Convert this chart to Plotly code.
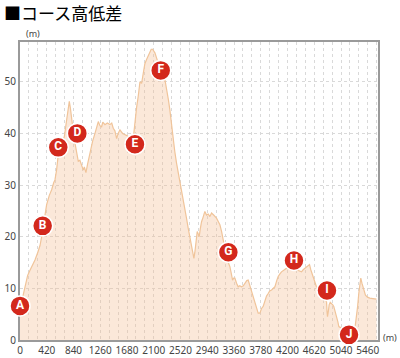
import plotly.graph_objects as go

dist = [0, 40, 80, 120, 157, 200, 235, 280, 314, 340, 366, 390, 418, 460, 497, 530, 549, 575, 601, 640,
        696, 732, 755, 774, 790, 811, 840, 863, 890, 915, 940, 968, 994, 1010, 1035, 1060, 1098, 1140, 1177, 1200,
        1229, 1255, 1281, 1300, 1334, 1370, 1412, 1440, 1464, 1490, 1517, 1540, 1569, 1610, 1647, 1690, 1726, 1760, 1778, 1804,
        1830, 1856, 1883, 1909, 1934, 1960, 1987, 2010, 2039, 2060, 2082, 2100, 2118, 2160, 2196, 2240, 2275, 2301, 2330, 2353,
        2380, 2405, 2430, 2458, 2500, 2536, 2560, 2589, 2615, 2641, 2665, 2693, 2715, 2730, 2745, 2761, 2782, 2800, 2813, 2830,
        2850, 2875, 2902, 2928, 2955, 2981, 3007, 3040, 3085, 3110, 3138, 3165, 3190, 3215, 3242, 3270, 3295, 3315, 3337, 3355,
        3373, 3400, 3425, 3450, 3477, 3505, 3530, 3560, 3582, 3610, 3635, 3670, 3700, 3739, 3765, 3792, 3817, 3844, 3870, 3896,
        3920, 3949, 3975, 4001, 4030, 4053, 4080, 4105, 4140, 4184, 4220, 4262, 4300, 4341, 4380, 4419, 4445, 4471, 4500, 4523,
        4545, 4565, 4585, 4602, 4630, 4654, 4680, 4706, 4735, 4759, 4790, 4812, 4820, 4827, 4840, 4853, 4870, 4890, 4910, 4926,
        4950, 4968, 4990, 5005, 5025, 5047, 5075, 5099, 5140, 5178, 5215, 5245, 5265, 5282, 5300, 5318, 5335, 5350, 5368, 5386,
        5405, 5423, 5455, 5491, 5540, 5596]
elev = [6, 8, 10.5, 12.5, 13.5, 14.5, 15.5, 17, 18.3, 20, 22, 24, 26.2, 28, 29.1, 30.5, 31, 33, 35.9, 37.5,
        39.4, 42.6, 45, 46.2, 45, 43.3, 40, 38.1, 36, 34.6, 34.8, 33.9, 32.9, 33.5, 32.4, 34, 36.2, 38.5, 40, 41,
        42.3, 41.5, 41.3, 42.2, 41.7, 42, 41.7, 42, 41, 40.5, 39, 40, 40.7, 40, 39.7, 39.5, 38.8, 38.5, 39, 42.6,
        45, 47.2, 50, 49.7, 52, 53.5, 54.3, 55, 55.9, 56.3, 56.3, 56, 55.6, 54, 53, 51.5, 50.4, 48.8, 46.5, 44.5,
        41.5, 39, 36.5, 34.2, 31.5, 29, 27.5, 25.2, 23.5, 21.6, 20, 18.1, 16.5, 15.8, 17, 19.4, 21, 20.5, 20, 21.5,
        22.9, 23.8, 24.9, 24.2, 24.4, 23.9, 24.6, 24.2, 23.6, 23, 22.3, 21, 19.4, 17.5, 16.1, 15, 14.2, 13, 11.6, 12,
        12, 11, 10.3, 10.5, 10.3, 10.5, 11, 11.5, 11.6, 10.5, 9.7, 8, 6.8, 5.2, 5.2, 6.1, 6.5, 7.8, 8.5, 9,
        9.5, 9.7, 10, 10.3, 11.5, 12.3, 12.8, 13.2, 13.5, 13.9, 13.7, 13.6, 13.8, 13.6, 13.3, 13.2, 13.6, 13.9, 14.2, 14.5,
        14.6, 13.6, 12.8, 12, 11, 10.3, 9.6, 9, 8.7, 8.4, 7.8, 7.4, 5.5, 4.5, 5.5, 6.8, 7.3, 7.1, 6.8, 6.5,
        5.5, 4.8, 3.5, 2.6, 2.4, 2.3, 2.1, 1.9, 1.7, 1.6, 1.7, 1.9, 3, 4.5, 6.5, 9, 11, 12, 11, 10.3,
        9.5, 8.7, 8.3, 8.1, 8, 7.9]

point_labels = ["A", "B", "C", "D", "E", "F", "G", "H", "I", "J"]
point_dist = [0, 356, 601, 900, 1805, 2209, 3271, 4301, 4819, 5165]
point_elev = [6.6, 22.1, 37.3, 40.0, 37.9, 52.2, 17.0, 15.4, 9.6, 1.0]

x_ticks = [0, 420, 840, 1260, 1680, 2100, 2520, 2940, 3360, 3780, 4200, 4620, 5040, 5460]
y_ticks = [0, 10, 20, 30, 40, 50]

fig = go.Figure()
fig.add_trace(go.Scatter(
    x=dist, y=elev, mode="lines", fill="tozeroy",
    line=dict(color="#f0c49a", width=1.2),
    fillcolor="rgba(243,190,145,0.35)",
    hoverinfo="skip", showlegend=False,
))
fig.add_trace(go.Scatter(
    x=point_dist, y=point_elev, mode="markers+text",
    text=point_labels, textposition="middle center",
    textfont=dict(color="white", size=12, family="Roboto, Arial, sans-serif", weight="bold"),
    marker=dict(size=20, color="#d3281c", line=dict(color="white", width=1.5)),
    cliponaxis=False, showlegend=False,
))

grid_col = "#d9d9d9"
fig.update_xaxes(
    range=[0, 5620], tickmode="array", tickvals=x_ticks,
    ticktext=[str(v) for v in x_ticks],
    showgrid=True, gridcolor=grid_col, griddash="dot", gridwidth=1,
    minor=dict(dtick=140, tick0=0, showgrid=True, gridcolor=grid_col, griddash="dot", gridwidth=1),
    showline=True, linecolor="#9a9a9a", linewidth=2, mirror=True,
    ticks="", zeroline=False, layer="below traces", automargin=False,
    tickfont=dict(size=10, color="#444", family="Noto Sans, sans-serif"),
)
fig.update_yaxes(
    range=[0, 57.7], tickmode="array", tickvals=y_ticks,
    showgrid=True, gridcolor=grid_col, griddash="dot", gridwidth=1,
    showline=True, linecolor="#9a9a9a", linewidth=2, mirror=True,
    ticks="", zeroline=False, layer="below traces", automargin=False,
    tickfont=dict(size=10, color="#444", family="Noto Sans, sans-serif"),
)

fig.update_layout(
    width=400, height=358,
    margin=dict(l=20, r=22, t=42, b=18, autoexpand=False),
    paper_bgcolor="white", plot_bgcolor="white",
    annotations=[
        dict(text="■コース高低差", xref="paper", yref="paper", x=-0.05, y=1.10,
             xanchor="left", yanchor="middle", showarrow=False,
             font=dict(size=17, color="black", family="Noto Sans CJK JP")),
        dict(text="(m)", xref="paper", yref="paper", x=0.036, y=1.03,
             xanchor="center", yanchor="middle", showarrow=False,
             font=dict(size=9, color="#444", family="Noto Sans, sans-serif")),
        dict(text="(m)", xref="paper", yref="paper", x=1.008, y=0.01,
             xanchor="left", yanchor="middle", showarrow=False,
             font=dict(size=9, color="#444", family="Noto Sans, sans-serif")),
    ],
)

fig.write_html("out.html")
